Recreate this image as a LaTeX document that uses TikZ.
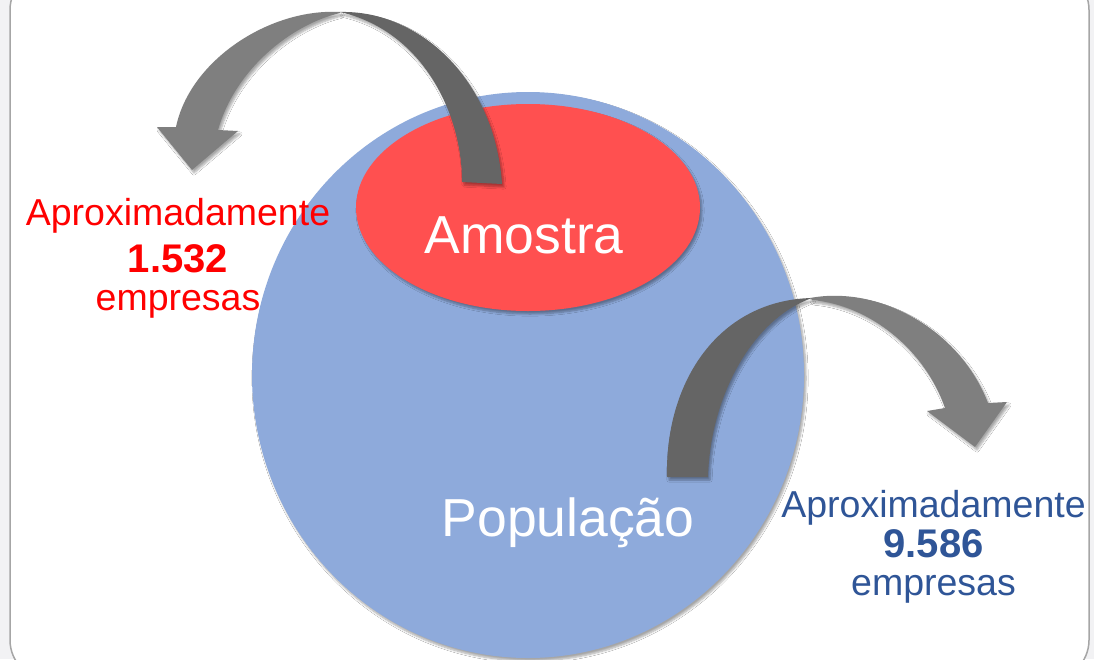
\documentclass[tikz,border=0pt]{standalone}
\usepackage{fontspec}
\setmainfont{Liberation Sans}
\usetikzlibrary{shadows.blur}

\definecolor{popblue}{HTML}{8EAADB}
\definecolor{samplered}{HTML}{FF5050}
\definecolor{txtblue}{HTML}{2F5597}
\definecolor{arrlight}{HTML}{7F7F7F}
\definecolor{arrdark}{HTML}{656565}
\definecolor{framegray}{HTML}{A6A6A6}
\definecolor{outside}{HTML}{F2F2F4}

\tikzset{
  softshadow/.style={blur shadow={shadow xshift=2pt,shadow yshift=-3pt,shadow blur steps=6,shadow opacity=35}},
  bigtxt/.style={text=white,font=\fontsize{53.5}{60}\selectfont,anchor=base},
  counttxt/.style={font=\fontsize{37.5}{42}\selectfont,anchor=base},
  countnum/.style={font=\fontsize{40}{44}\selectfont\bfseries,anchor=base},
}

\begin{document}
\begin{tikzpicture}[x=1pt,y=-1pt]
	\useasboundingbox (0,0) rectangle (1094,659);
	\fill[outside] (0,0) rectangle (1094,659);
	\filldraw[fill=white,draw=framegray,line width=1.5pt,rounded corners=40pt] (10,-30) rectangle (1089,680);

	% population and sample
	\fill[popblue,softshadow] (528,375) ellipse [x radius=276pt, y radius=283pt];
	\fill[samplered,softshadow] (528,207.5) ellipse [x radius=172pt, y radius=103.5pt];

	\node[bigtxt] (amostra) at (524,253) {Amostra};
	\node[bigtxt] (populacao) at (568,536) {População};

	% arrow tips
	\coordinate (tipA) at (192,170);
	\coordinate (tipB) at (975,447);

	% sample arrow
	\fill[arrlight,softshadow] (340,12) .. controls (270,8) and (190,60) .. (176,127) -- (157,127) -- (tipA) -- (238,131) -- (218,130) .. controls (235,70) and (290,25) .. (340,13) -- cycle;
	\fill[arrdark,softshadow] (340,12) .. controls (420,10) and (495,80) .. (502,184) -- (462,182) .. controls (462,110) and (420,30) .. (340,12) -- cycle;

	% population arrow
	\fill[arrdark,softshadow] (667,477) .. controls (665,380) and (720,300) .. (812,298) .. controls (750,320) and (710,400) .. (708,477) -- cycle;
	\fill[arrlight,softshadow] (810,298) .. controls (880,285) and (960,330) .. (988,403) -- (1007,402) -- (tipB) -- (927,411) -- (945,408) .. controls (925,350) and (870,305) .. (812,300) -- cycle;

	% counts
	\node[counttxt,text=red] (aproxA) at (178,225) {Aproximadamente};
	\node[countnum,text=red] (numA) at (178,272) {1.532};
	\node[counttxt,text=red] (empA) at (178,310) {empresas};

	\node[counttxt,text=txtblue] (aproxB) at (933.5,517) {Aproximadamente};
	\node[countnum,text=txtblue] (numB) at (933.5,557) {9.586};
	\node[counttxt,text=txtblue] (empB) at (933.5,595) {empresas};
\end{tikzpicture}
\end{document}
